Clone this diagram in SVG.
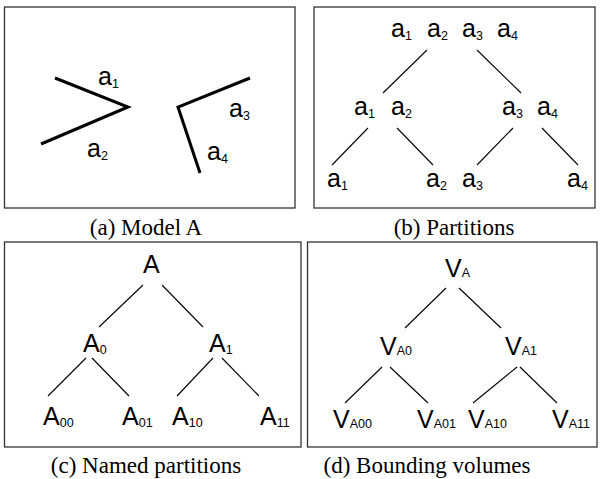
<svg xmlns="http://www.w3.org/2000/svg" width="600" height="479" viewBox="0 0 600 479">
<style>
.panel{fill:#fff;stroke:#333;stroke-width:1.3}
.cap{font-family:"Liberation Serif","Times New Roman",serif;font-size:23px;fill:#000;text-anchor:middle}
.t{font-family:"Liberation Sans",Arial,sans-serif;font-size:25px;fill:#000}
.s{font-size:12.5px}
.e{stroke:#000;stroke-width:1.1;fill:none}
.m{stroke:#000;stroke-width:3;fill:none;stroke-linejoin:miter}
</style>
<rect width="600" height="479" fill="#fff"/>
<g id="panel-a">
<rect class="panel" x="4.5" y="7" width="290.5" height="201"/>
<polyline class="m" points="55,78 128,107 41,144"/>
<polyline class="m" points="250,78 178,107 200,173"/>
<text class="t" x="98" y="85">a<tspan class="s" dy="3">1</tspan></text>
<text class="t" x="87" y="157">a<tspan class="s" dy="3">2</tspan></text>
<text class="t" x="229" y="117">a<tspan class="s" dy="3">3</tspan></text>
<text class="t" x="207" y="160">a<tspan class="s" dy="3">4</tspan></text>
<text class="cap" x="146" y="235">(a) Model A</text>
</g>
<g id="panel-b">
<rect class="panel" x="314" y="7" width="281" height="201"/>
<g id="b-root">
<text class="t" x="391" y="37">a<tspan class="s" dy="3">1</tspan></text>
<text class="t" x="427" y="37">a<tspan class="s" dy="3">2</tspan></text>
<text class="t" x="462" y="37">a<tspan class="s" dy="3">3</tspan></text>
<text class="t" x="497" y="37">a<tspan class="s" dy="3">4</tspan></text>
</g>
<g id="b-l">
<text class="t" x="354" y="115">a<tspan class="s" dy="3">1</tspan></text>
<text class="t" x="391" y="115">a<tspan class="s" dy="3">2</tspan></text>
</g>
<g id="b-r">
<text class="t" x="502" y="115">a<tspan class="s" dy="3">3</tspan></text>
<text class="t" x="537" y="115">a<tspan class="s" dy="3">4</tspan></text>
</g>
<g id="b-ll"><text class="t" x="327" y="187">a<tspan class="s" dy="3">1</tspan></text></g>
<g id="b-lr"><text class="t" x="426" y="187">a<tspan class="s" dy="3">2</tspan></text></g>
<g id="b-rl"><text class="t" x="462" y="187">a<tspan class="s" dy="3">3</tspan></text></g>
<g id="b-rr"><text class="t" x="567" y="187">a<tspan class="s" dy="3">4</tspan></text></g>
<text class="cap" x="454" y="235">(b) Partitions</text>
</g>
<g id="panel-c">
<rect class="panel" x="4.5" y="242" width="296.5" height="205"/>
<g id="c-A"><text class="t" x="143" y="273">A</text></g>
<g id="c-A0"><text class="t" x="83" y="352">A<tspan class="s" dy="2">0</tspan></text></g>
<g id="c-A1"><text class="t" x="209" y="352">A<tspan class="s" dy="2">1</tspan></text></g>
<g id="c-A00"><text class="t" x="43" y="425">A<tspan class="s" dy="2">00</tspan></text></g>
<g id="c-A01"><text class="t" x="122" y="425">A<tspan class="s" dy="2">01</tspan></text></g>
<g id="c-A10"><text class="t" x="172" y="425">A<tspan class="s" dy="2">10</tspan></text></g>
<g id="c-A11"><text class="t" x="260" y="425">A<tspan class="s" dy="2">11</tspan></text></g>
<text class="cap" x="146" y="473">(c) Named partitions</text>
</g>
<g id="panel-d">
<rect class="panel" x="307.5" y="242" width="289.5" height="205"/>
<g id="d-VA"><text class="t" x="445" y="277">V<tspan class="s">A</tspan></text></g>
<g id="d-VA0"><text class="t" x="380" y="355">V<tspan class="s">A0</tspan></text></g>
<g id="d-VA1"><text class="t" x="505" y="355">V<tspan class="s">A1</tspan></text></g>
<g id="d-VA00"><text class="t" x="333" y="428">V<tspan class="s">A00</tspan></text></g>
<g id="d-VA01"><text class="t" x="417" y="428">V<tspan class="s">A01</tspan></text></g>
<g id="d-VA10"><text class="t" x="468" y="428">V<tspan class="s">A10</tspan></text></g>
<g id="d-VA11"><text class="t" x="552" y="428">V<tspan class="s">A11</tspan></text></g>
<text class="cap" x="427" y="473">(d) Bounding volumes</text>
</g>
<g id="connectors">
<line class="e" x1="427" y1="50" x2="383" y2="93"/>
<line class="e" x1="477" y1="50" x2="521" y2="93"/>
<line class="e" x1="368" y1="128" x2="332" y2="165"/>
<line class="e" x1="397" y1="128" x2="433" y2="165"/>
<line class="e" x1="513" y1="128" x2="477" y2="165"/>
<line class="e" x1="542" y1="128" x2="578" y2="165"/>
<line class="e" x1="143" y1="285" x2="99" y2="327"/>
<line class="e" x1="162" y1="285" x2="203" y2="327"/>
<line class="e" x1="86" y1="358" x2="48" y2="396"/>
<line class="e" x1="92" y1="358" x2="129" y2="396"/>
<line class="e" x1="213" y1="358" x2="177" y2="396"/>
<line class="e" x1="222" y1="358" x2="259" y2="396"/>
<line class="e" x1="446" y1="288" x2="405" y2="328"/>
<line class="e" x1="459" y1="288" x2="501" y2="328"/>
<line class="e" x1="382" y1="367" x2="345" y2="403"/>
<line class="e" x1="390" y1="367" x2="428" y2="403"/>
<line class="e" x1="517" y1="367" x2="473" y2="403"/>
<line class="e" x1="520" y1="367" x2="557" y2="403"/>
</g>
</svg>
